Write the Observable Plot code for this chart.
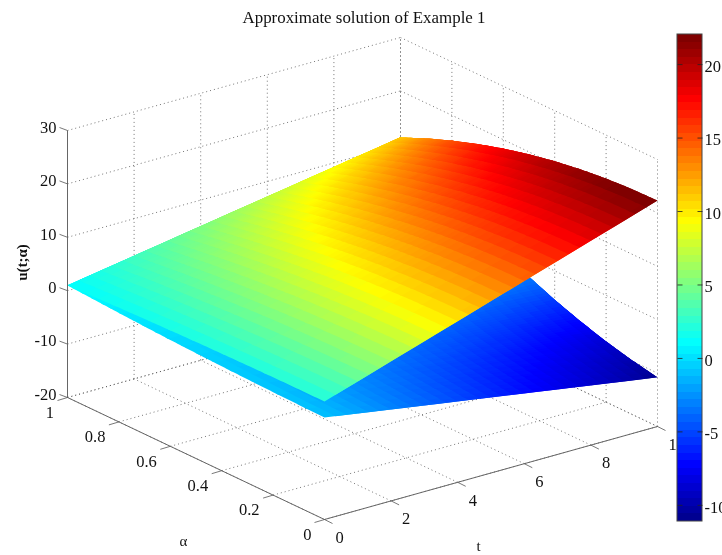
<!DOCTYPE html>
<html>
<head>
<meta charset="utf-8">
<script src="https://cdn.jsdelivr.net/npm/d3@7"></script>
<script src="https://cdn.jsdelivr.net/npm/@observablehq/plot@0.6"></script>
<style>
  html, body { margin: 0; padding: 0; background: #fff; overflow: hidden; }
  svg { display: block; filter: blur(0.3px); }
</style>
</head>
<body>
<div id="chart"></div>
<script>
// ---------- chart values ----------
const titleText = "Approximate solution of Example 1";
const tTicks = [0, 2, 4, 6, 8, 10];
const alphaTicks = [0, 0.2, 0.4, 0.6, 0.8, 1];
const zTicks = [-20, -10, 0, 10, 20, 30];
const barTicks = [-10, -5, 0, 5, 10, 15, 20];
const barRange = [-11.1, 22.05];

const alphaGrid = [0, 0.1, 0.2, 0.3, 0.4, 0.5, 0.6, 0.7, 0.8, 0.9, 1];
const tGrid = [0, 2, 4, 6, 8, 10];
// one row per t, one column per alpha
const upperU = [
  [2.10, 2.09, 2.06, 2.00, 1.92, 1.83, 1.70, 1.56, 1.40, 1.21, 1.00],
  [6.14, 6.11, 6.02, 5.86, 5.65, 5.37, 5.03, 4.63, 4.17, 3.65, 3.06],
  [10.18, 10.13, 9.98, 9.72, 9.37, 8.92, 8.36, 7.70, 6.94, 6.08, 5.12],
  [14.22, 14.15, 13.94, 13.59, 13.09, 12.46, 11.69, 10.77, 9.71, 8.52, 7.18],
  [18.26, 18.17, 17.90, 17.45, 16.82, 16.01, 15.01, 13.84, 12.49, 10.95, 9.24],
  [22.30, 22.19, 21.86, 21.31, 20.54, 19.55, 18.34, 16.91, 15.26, 13.39, 11.30]
];
const lowerU = [
  [-0.90, -0.82, -0.72, -0.60, -0.45, -0.28, -0.09, 0.14, 0.40, 0.69, 1.00],
  [-2.88, -2.63, -2.30, -1.91, -1.44, -0.90, -0.29, 0.42, 1.22, 2.10, 3.06],
  [-4.86, -4.43, -3.89, -3.22, -2.43, -1.52, -0.49, 0.70, 2.05, 3.52, 5.12],
  [-6.84, -6.24, -5.47, -4.53, -3.42, -2.14, -0.68, 0.99, 2.87, 4.94, 7.18],
  [-8.82, -8.05, -7.06, -5.84, -4.41, -2.76, -0.88, 1.27, 3.70, 6.35, 9.24],
  [-10.80, -9.86, -8.64, -7.16, -5.40, -3.38, -1.08, 1.55, 4.52, 7.77, 11.30]
];

// ---------- view: orthographic projection of (t, alpha, u) ----------
const W = 722, H = 555;
const view = {x0: 67, y0: 397, tx: 33.3, ty: -9.3, ax: 257, ay: 122, zy: 5.34};
const px = (t, a) => view.x0 + t * view.tx + (1 - a) * view.ax;
const py = (t, a, z) => view.y0 + t * view.ty + (1 - a) * view.ay - (z + 20) * view.zy;
const bar = {l: 677, r: 702, top: 34, bottom: 521};
const barY = v => bar.top + (barRange[1] - v) / (barRange[1] - barRange[0]) * (bar.bottom - bar.top);

// ---------- jet colormap: 64 anchors (the colour bar's steps), refined for the smooth shading along alpha ----------
const m = 64, n = 16;
const ramp = [...d3.range(1, n + 1).map(k => k / n), ...d3.range(n - 1).map(() => 1), ...d3.range(n, 0, -1).map(k => k / n)];
const chan = off => { const c = new Array(m).fill(0); ramp.forEach((u, k) => { const j = 8 + k + off; if (j >= 0 && j < m) c[j] = u; }); return c; };
const R = chan(16), G = chan(0), B = chan(-16);
const step = (barRange[1] - barRange[0]) / m;
const levels = d3.range(m).map(i => ({lo: barRange[0] + i * step, hi: barRange[0] + (i + 1) * step, mid: barRange[0] + (i + 0.5) * step}));
const fine = 4, fineN = m * fine, fineStep = step / fine;
const jetAt = i => {
  const f = Math.max(0, Math.min(m - 1, (i + 0.5) / fine - 0.5));
  const k = Math.min(m - 2, Math.floor(f)), w = f - k;
  const mix = c => (c[k] + w * (c[k + 1] - c[k])) * 255;
  return d3.rgb(mix(R), mix(G), mix(B)).formatHex();
};
const jetFine = d3.range(fineN).map(jetAt);
const thresholds = d3.range(1, fineN).map(i => barRange[0] + i * fineStep);
const fineLevelOf = u => Math.max(0, Math.min(fineN - 1, Math.floor((u - barRange[0]) / fineStep)));

// ---------- surface facets: one strip per mesh row in t, flat across the row, split into runs of one colour ----------
const meshRows = 30, meshCols = 100;
function surfaceAt(table, t, a) {
  const i = Math.min(tGrid.length - 2, d3.bisectRight(tGrid, t) - 1);
  const j = Math.min(alphaGrid.length - 2, d3.bisectRight(alphaGrid, a) - 1);
  const ft = (t - tGrid[i]) / (tGrid[i + 1] - tGrid[i]);
  const fa = (a - alphaGrid[j]) / (alphaGrid[j + 1] - alphaGrid[j]);
  const u0 = table[i][j] + fa * (table[i][j + 1] - table[i][j]);
  const u1 = table[i + 1][j] + fa * (table[i + 1][j + 1] - table[i + 1][j]);
  return u0 + ft * (u1 - u0);
}
function facets(table, prefix) {
  const rows = [];
  let id = 0;
  const tAt = r => 10 * Math.min(r, meshRows) / meshRows;
  const aAt = c => Math.min(c, meshCols) / meshCols;
  const vertex = (key, v, t, a) => rows.push({key, v, x: px(t, a), y: py(t, a, surfaceAt(table, t, a))});
  for (let r = 0; r < meshRows; r++) {
    const colour = c => fineLevelOf(surfaceAt(table, (tAt(r) + tAt(r + 1)) / 2, (aAt(c) + aAt(c + 1)) / 2));
    let start = 0;
    while (start < meshCols) {
      let end = start + 1;
      while (end < meshCols && colour(end) === colour(start)) end++;
      // each piece runs one facet under the next one painted, so no seam shows
      const key = prefix + (id++), v = barRange[0] + (colour(start) + 0.5) * fineStep;
      const t0 = tAt(r), t1 = tAt(r + 2);
      for (let c = start; c <= end + 1 && c <= meshCols; c++) vertex(key, v, t0, aAt(c));
      for (let c = Math.min(end + 1, meshCols); c >= start; c--) vertex(key, v, t1, aAt(c));
      start = end;
    }
  }
  return rows;
}
const lowerBands = facets(lowerU, "l");
const upperBands = facets(upperU, "u");

// ---------- box grid, axes, ticks ----------
const seg = (x1, y1, x2, y2) => ({x1, y1, x2, y2});
const zLo = -20, zHi = 30;
const grid = [
  ...tTicks.map(t => seg(px(t, 0), py(t, 0, zLo), px(t, 1), py(t, 1, zLo))),
  ...alphaTicks.map(a => seg(px(0, a), py(0, a, zLo), px(10, a), py(10, a, zLo))),
  ...tTicks.map(t => seg(px(t, 1), py(t, 1, zLo), px(t, 1), py(t, 1, zHi))),
  ...zTicks.map(z => seg(px(0, 1), py(0, 1, z), px(10, 1), py(10, 1, z))),
  ...alphaTicks.map(a => seg(px(10, a), py(10, a, zLo), px(10, a), py(10, a, zHi))),
  ...zTicks.map(z => seg(px(10, 1), py(10, 1, z), px(10, 0), py(10, 0, z)))
];
const axes = [
  seg(px(0, 1), py(0, 1, zLo), px(0, 1), py(0, 1, zHi)),
  seg(px(0, 1), py(0, 1, zLo), px(0, 0), py(0, 0, zLo)),
  seg(px(0, 0), py(0, 0, zLo), px(10, 0), py(10, 0, zLo))
];
const ticks = [
  ...zTicks.map(z => seg(px(0, 1), py(0, 1, z), px(0, 1) - 8, py(0, 1, z) - 3)),
  ...alphaTicks.map(a => seg(px(0, a), py(0, a, zLo), px(0, a) - 10, py(0, a, zLo) + 3)),
  ...tTicks.map(t => seg(px(t, 0), py(t, 0, zLo), px(t, 0) + 8, py(t, 0, zLo) + 4))
];
const barTickMarks = barTicks.flatMap(v => [
  seg(bar.l, barY(v), bar.l + 5, barY(v)),
  seg(bar.r - 5, barY(v), bar.r, barY(v))
]);

// ---------- labels ----------
const serif = "Liberation Serif";
const tickSize = 16.5;
const zLabels = zTicks.map(z => ({x: 56, y: py(0, 1, z) - 3, text: String(z)}));
const alphaLabels = alphaTicks.map(a => ({x: px(0, a) - 13 + (a === 0 ? 0 : -0.5), y: py(0, a, zLo) + 15, text: String(a)}));
const tLabels = tTicks.map(t => ({x: px(t, 0) + 11, y: py(t, 0, zLo) + 18, text: String(t)}));
const barLabels = barTicks.map(v => ({x: 704, y: barY(v) + 2, text: String(v)}));

const chart = Plot.plot({
  width: W, height: H,
  marginTop: 0, marginRight: 0, marginBottom: 0, marginLeft: 0,
  x: {type: "identity", axis: null},
  y: {type: "identity", axis: null},
  color: {type: "threshold", domain: thresholds, range: jetFine},
  style: {fontFamily: serif, background: "#fff", color: "#000"},
  marks: [
    Plot.link(grid, {x1: "x1", y1: "y1", x2: "x2", y2: "y2", stroke: "#555", strokeWidth: 0.9, strokeDasharray: "1,3", strokeOpacity: 0.9}),
    Plot.line(lowerBands, {x: "x", y: "y", z: "key", fill: "v", stroke: "none"}),
    Plot.line(upperBands, {x: "x", y: "y", z: "key", fill: "v", stroke: "none"}),
    Plot.link(axes, {x1: "x1", y1: "y1", x2: "x2", y2: "y2", stroke: "#666", strokeWidth: 1}),
    Plot.link(ticks, {x1: "x1", y1: "y1", x2: "x2", y2: "y2", stroke: "#555", strokeWidth: 0.8}),
    Plot.text(zLabels, {x: "x", y: "y", text: "text", textAnchor: "end", fontSize: tickSize, fill: "#111"}),
    Plot.text(alphaLabels, {x: "x", y: "y", text: "text", textAnchor: "end", fontSize: tickSize, fill: "#111"}),
    Plot.text(tLabels, {x: "x", y: "y", text: "text", textAnchor: "start", fontSize: tickSize, fill: "#111"}),
    Plot.text([{x: 363.5, y: 17, text: titleText}], {x: "x", y: "y", text: "text", fontSize: 16.9, fill: "#111"}),
    Plot.text([{x: 183, y: 541, text: "α"}], {x: "x", y: "y", text: "text", fontSize: 15, fill: "#111"}),
    Plot.text([{x: 478, y: 546, text: "t"}], {x: "x", y: "y", text: "text", fontSize: 15, fill: "#111"}),
    Plot.text([{x: 22, y: 262, text: "u(t;α)"}], {x: "x", y: "y", text: "text", rotate: -90, fontSize: 15, fontWeight: "bold", fill: "#111"}),
    // colour bar (drawn last: it sits over the "10" of the t axis, as in the picture)
    Plot.rect(levels, {x1: () => bar.l, x2: () => bar.r, y1: d => barY(d.lo), y2: d => barY(d.hi), fill: "mid", shapeRendering: "crispEdges"}),
    Plot.rect([0], {x1: () => bar.l, x2: () => bar.r, y1: () => bar.top, y2: () => bar.bottom, fill: "none", stroke: "#444", strokeWidth: 1}),
    Plot.link(barTickMarks, {x1: "x1", y1: "y1", x2: "x2", y2: "y2", stroke: "#222", strokeOpacity: 0.8, strokeWidth: 1}),
    Plot.text(barLabels, {x: "x", y: "y", text: "text", textAnchor: "start", fontSize: tickSize, fill: "#111"})
  ]
});
document.getElementById("chart").appendChild(chart);
</script>
</body>
</html>
